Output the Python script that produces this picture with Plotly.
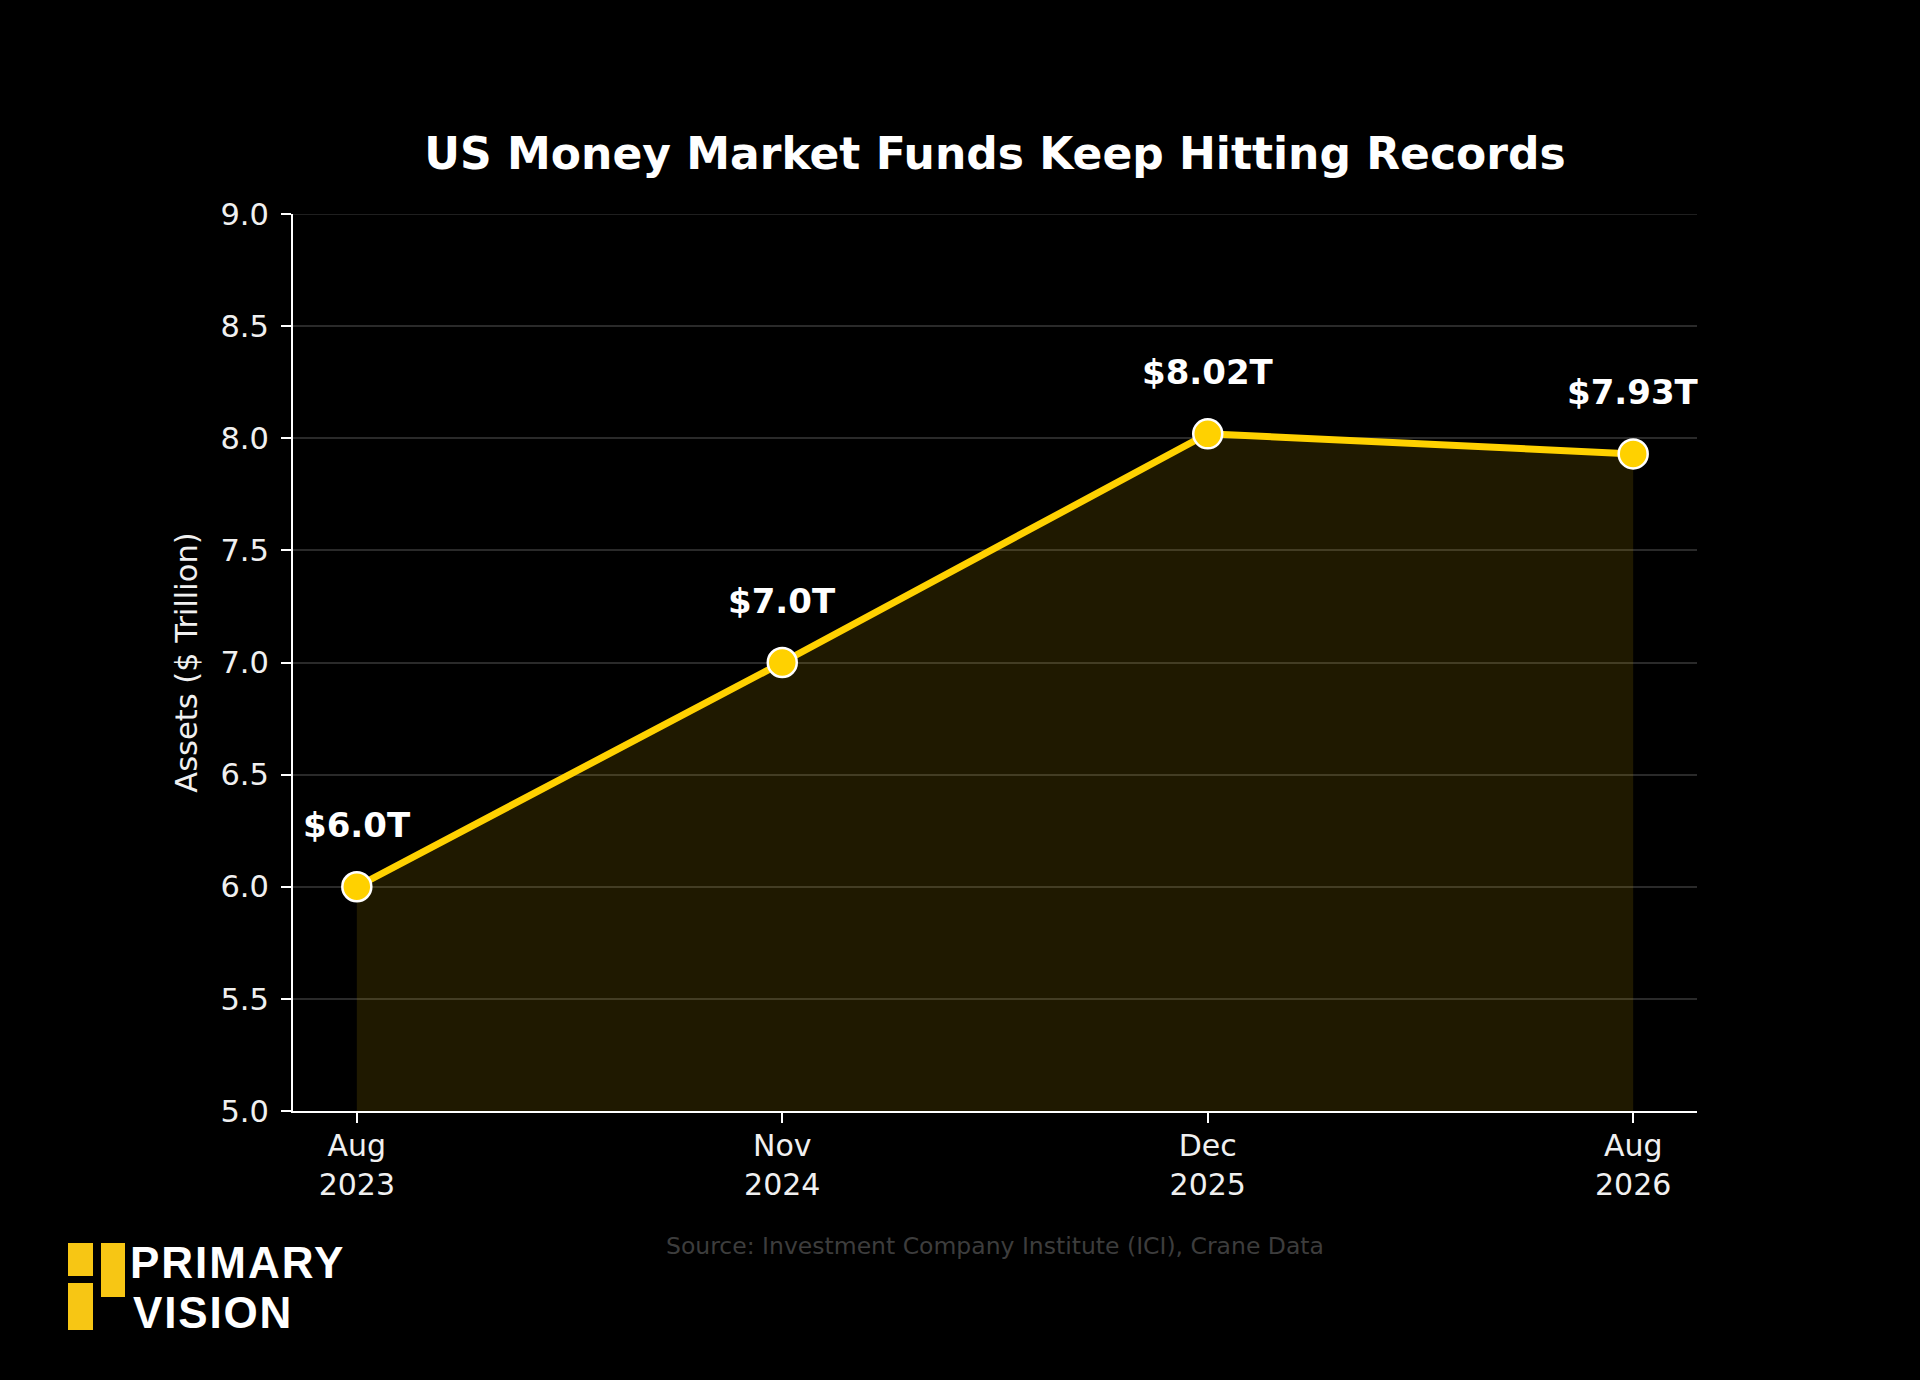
import plotly.graph_objects as go

# ---- data ----
periods = ["Aug<br>2023", "Nov<br>2024", "Dec<br>2025", "Aug<br>2026"]
assets_trillion = [6.0, 7.0, 8.02, 7.93]
point_labels = ["$6.0T", "$7.0T", "$8.02T", "$7.93T"]
y_ticks = [5.0, 5.5, 6.0, 6.5, 7.0, 7.5, 8.0, 8.5, 9.0]

title_text = "US Money Market Funds Keep Hitting Records"
y_title = "Assets ($ Trillion)"
source_text = "Source: Investment Company Institute (ICI), Crane Data"
logo_lines = ["PRIMARY", "VISION"]

# ---- layout geometry (pixels) ----
W, H = 1920, 1380
L, R, T, B = 293, 1697, 214, 1111
PW, PH = R - L, B - T

def px_x(p):
    return (p - L) / PW

def px_y(p):
    return (B - p) / PH

GOLD = "#FFD100"
FONT = "DejaVu Sans"

xs = list(range(len(periods)))

fig = go.Figure()
fig.add_trace(go.Scatter(
    x=xs, y=assets_trillion,
    mode="lines+markers",
    line=dict(color=GOLD, width=7),
    marker=dict(size=29, color=GOLD, line=dict(color="white", width=2.5)),
    fill="tozeroy",
    fillcolor="rgba(255,209,0,0.12)",
    hoverinfo="skip",
    showlegend=False,
    cliponaxis=False,
))

annotations = []
for xi, v, lab in zip(xs, assets_trillion, point_labels):
    annotations.append(dict(
        x=xi, y=v, xref="x", yref="y", text=lab, showarrow=False,
        yshift=62, yanchor="middle", xanchor="center",
        font=dict(family=FONT, size=34, color="white", weight="bold"),
    ))

# source
annotations.append(dict(
    x=0.5, y=px_y(1246), xref="paper", yref="paper", text=source_text,
    showarrow=False, xanchor="center", yanchor="middle",
    font=dict(family=FONT, size=23.5, color="#3d3d3d"),
))

# logo text: one block, tight line spacing (1.3 x 38.5px ~ 50px)
logo_text = (
    f'<span style="font-size:44px;letter-spacing:2px">{logo_lines[0]}</span><br>'
    f'<span style="font-size:11px">\u00a0</span>'
    f'<span style="font-size:44px;letter-spacing:1.8px">{logo_lines[1]}</span>'
)
annotations.append(dict(
    x=px_x(128), y=px_y(1287), xref="paper", yref="paper", text=logo_text,
    showarrow=False, xanchor="left", yanchor="middle", align="left",
    font=dict(family="Liberation Sans", size=38.5, color="white", weight="bold"),
))

logo_blocks = [(68, 1243, 93, 1276), (101, 1243, 125, 1297), (68, 1283, 93, 1330)]
shapes = []
for x0, y0, x1, y1 in logo_blocks:
    shapes.append(dict(
        type="rect", xref="paper", yref="paper",
        x0=px_x(x0), x1=px_x(x1), y0=px_y(y1), y1=px_y(y0),
        fillcolor="#F7C614", line=dict(width=0), layer="above",
    ))

# top gridline (plotly omits the gridline on the plot edge)
shapes.append(dict(
    type="line", xref="paper", yref="y", x0=0, x1=1,
    y0=y_ticks[-1], y1=y_ticks[-1],
    line=dict(color="#2a2a2a", width=1.5), layer="below",
))

fig.update_layout(
    width=W, height=H,
    margin=dict(l=L, r=W - R, t=T, b=H - B, pad=0),
    paper_bgcolor="black", plot_bgcolor="black",
    title=dict(
        text=title_text, x=0.5, xref="paper", xanchor="center",
        y=1 - 154 / H, yref="container", yanchor="middle",
        font=dict(family=FONT, size=44, color="white", weight="bold"),
    ),
    xaxis=dict(
        range=[-0.15, len(periods) - 1 + 0.15],
        tickvals=xs, ticktext=periods,
        showgrid=False, zeroline=False,
        showline=True, linecolor="white", linewidth=2,
        ticks="outside", ticklen=10, tickwidth=2, tickcolor="white",
        ticklabelstandoff=-3,
        tickfont=dict(family=FONT, size=30, color="#f0f0f0"),
    ),
    yaxis=dict(
        range=[5, 9], tickvals=y_ticks, tickformat=".1f",
        showgrid=True, gridcolor="#2a2a2a", gridwidth=1.5,
        zeroline=False,
        showline=True, linecolor="white", linewidth=2,
        ticks="outside", ticklen=10, tickwidth=2, tickcolor="white",
        ticklabelstandoff=6,
        tickfont=dict(family=FONT, size=30.5, color="#f0f0f0"),
        title=dict(text=y_title, font=dict(family=FONT, size=30.5, color="#f0f0f0"), standoff=14),
    ),
    annotations=annotations,
    shapes=shapes,
)

fig.write_html(
    "out.html",
    config={"displayModeBar": False},
    post_script="document.body.style.margin='0';document.body.style.background='black';",
)
